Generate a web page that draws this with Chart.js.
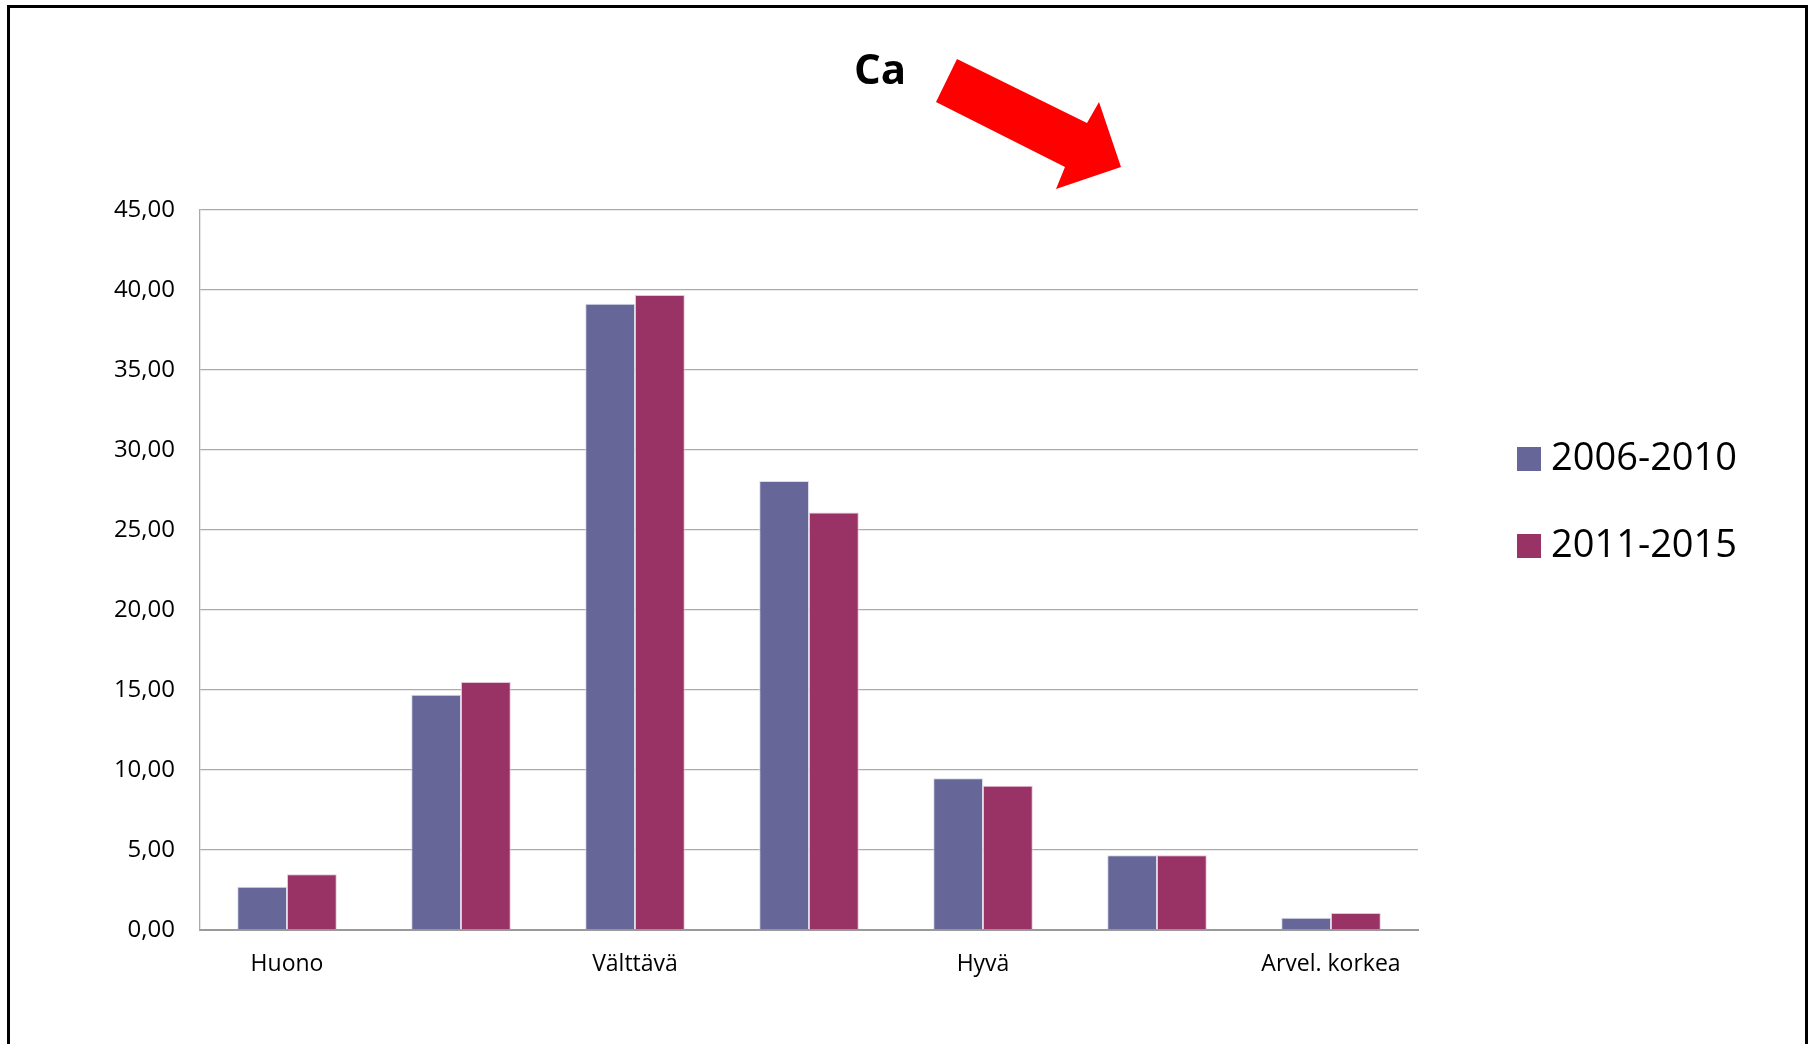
<!DOCTYPE html>
<html>
<head>
<meta charset="utf-8">
<script src="https://cdn.jsdelivr.net/npm/chart.js@4"></script>
<style>
  html, body { margin: 0; padding: 0; background: #fff; }
  #wrap { width: 1812px; height: 1044px; position: relative; }
</style>
</head>
<body>
<div id="wrap"><canvas id="caChart" width="1812" height="1044"></canvas></div>
<script>
// Categories (only every other one is labelled in the original)
const categories = ["Huono", "", "Välttävä", "", "Hyvä", "", "Arvel. korkea"];

// Share of samples per class (%)
const values2006_2010 = [2.71, 14.7, 39.14, 28.06, 9.48, 4.67, 0.77];
const values2011_2015 = [3.48, 15.5, 39.69, 26.1, 9.02, 4.67, 1.06];

const seriesLabels = ["2006-2010", "2011-2015"];
const seriesColors = ["#666699", "#993366"];

const yTicks = { min: 0, max: 45, step: 5 };
const titleText = "Ca";

const FONT = "'Open Sans', 'Noto Sans', sans-serif";

// frame, title, arrow and legend drawn on the canvas
const decorations = {
    id: "decorations",
    beforeDraw(chart) {
        const ctx = chart.ctx;
        ctx.save();
        ctx.fillStyle = "#fff";
        ctx.fillRect(0, 0, chart.width, chart.height);
        ctx.restore();
    },
    afterDraw(chart) {
        const ctx = chart.ctx;
        ctx.save();

        // outer frame (open at the bottom)
        ctx.strokeStyle = "#000";
        ctx.lineWidth = 3;
        ctx.beginPath();
        ctx.moveTo(8.5, 1050);
        ctx.lineTo(8.5, 6.5);
        ctx.lineTo(1806.5, 6.5);
        ctx.lineTo(1806.5, 1050);
        ctx.stroke();

        // title
        ctx.fillStyle = "#000";
        ctx.font = "bold 42px " + FONT;
        ctx.textAlign = "center";
        ctx.textBaseline = "middle";
        ctx.fillText(titleText, 880, 72);

        // red arrow
        ctx.fillStyle = "#ff0000";
        ctx.beginPath();
        ctx.moveTo(957, 59);
        ctx.lineTo(1087, 123);
        ctx.lineTo(1099, 102);
        ctx.lineTo(1121, 167);
        ctx.lineTo(1056, 189);
        ctx.lineTo(1065, 167);
        ctx.lineTo(936, 102);
        ctx.closePath();
        ctx.fill();

        // legend
        ctx.font = "38px " + FONT;
        ctx.textAlign = "left";
        chart.data.datasets.forEach((ds, i) => {
            const y = 459 + i * 87;
            ctx.fillStyle = ds.backgroundColor;
            ctx.fillRect(1517, y - 12, 24, 24);
            ctx.fillStyle = "#000";
            ctx.fillText(ds.label, 1551, y);
        });

        ctx.restore();
    }
};

new Chart(document.getElementById("caChart"), {
    type: "bar",
    data: {
        labels: categories,
        datasets: [
            {
                label: seriesLabels[0],
                data: values2006_2010,
                backgroundColor: seriesColors[0],
                borderColor: "rgba(215,215,232,0.9)",
                borderWidth: 1,
                categoryPercentage: 0.572,
                barPercentage: 1.0
            },
            {
                label: seriesLabels[1],
                data: values2011_2015,
                backgroundColor: seriesColors[1],
                borderColor: "rgba(225,190,210,0.9)",
                borderWidth: 1,
                categoryPercentage: 0.572,
                barPercentage: 1.0
            }
        ]
    },
    options: {
        responsive: false,
        animation: false,
        layout: {
            padding: { left: 0, right: 394, top: 210, bottom: 0 }
        },
        plugins: {
            legend: { display: false },
            title: { display: false },
            tooltip: { enabled: false }
        },
        scales: {
            x: {
                grid: { display: false, drawTicks: false },
                border: { display: true, color: "#9a9a9a", width: 2 },
                ticks: {
                    autoSkip: false,
                    maxRotation: 0,
                    padding: 21,
                    color: "#000",
                    font: { family: FONT, size: 23 }
                },
                afterFit(scale) { scale.height = 114; }
            },
            y: {
                min: yTicks.min,
                max: yTicks.max,
                grid: { color: "#ababab", lineWidth: 1.3, drawTicks: false },
                border: { display: true, color: "#ababab", width: 1.3 },
                ticks: {
                    stepSize: yTicks.step,
                    padding: 25,
                    color: "#000",
                    font: { family: FONT, size: 24 },
                    callback: v => v.toFixed(2).replace(".", ",")
                },
                afterFit(scale) { scale.width = 200; }
            }
        }
    },
    plugins: [decorations]
});
</script>
</body>
</html>
